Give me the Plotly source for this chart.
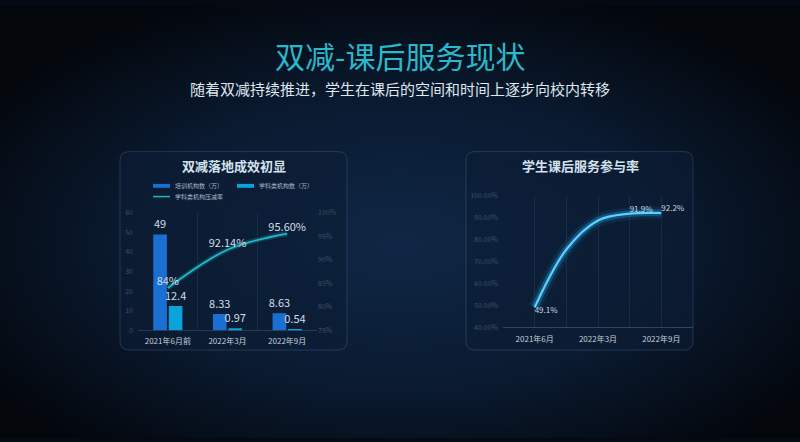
import base64
import plotly.graph_objects as go

# ---------------- data ----------------
title_main = "双减-课后服务现状"
subtitle = "随着双减持续推进，学生在课后的空间和时间上逐步向校内转移"

left_title = "双减落地成效初显"
left_cats = ["2021年6月前", "2022年3月", "2022年9月"]
training_orgs = [49, 8.33, 8.63]          # 培训机构数（万）
subject_orgs = [12.4, 0.97, 0.54]         # 学科类机构数（万）
reduction_rate = [84, 92.14, 95.60]       # 学科类机构压减率 (%)
reduction_labels = ["84%", "92.14%", "95.60%"]
legend_names = ["培训机构数（万）", "学科类机构数（万）", "学科类机构压减率"]

right_title = "学生课后服务参与率"
right_x = [0, 1, 2, 3, 4]
right_ticktext = ["2021年6月", "", "2022年3月", "", "2022年9月"]
participation = [49.1, 75.5, 88.8, 91.9, 92.2]
participation_labels = ["49.1%", "", "", "91.9%", "92.2%"]

FONT = "Noto Sans CJK SC"
W, H = 800, 442
C_BAR1, C_BAR2, C_LINE = "#1a6fd2", "#0aa3dc", "#1fb8c9"


def px_x(v):
    return v / W


def px_y(v):
    return 1 - v / H


def rounded_rect(x0, y0, x1, y1, r):
    rx, ry = r / W, r / H
    X0, X1 = px_x(x0), px_x(x1)
    Y0, Y1 = px_y(y1), px_y(y0)
    return (f"M {X0+rx},{Y0} L {X1-rx},{Y0} Q {X1},{Y0} {X1},{Y0+ry} "
            f"L {X1},{Y1-ry} Q {X1},{Y1} {X1-rx},{Y1} L {X0+rx},{Y1} "
            f"Q {X0},{Y1} {X0},{Y1-ry} L {X0},{Y0+ry} Q {X0},{Y0} {X0+rx},{Y0} Z")


fig = go.Figure()

# ---------------- left chart ----------------
bar_text_font = dict(size=11, color="#d3dde8", family=FONT)
fig.add_trace(go.Bar(
    x=left_cats, y=training_orgs, name=legend_names[0],
    marker=dict(color=C_BAR1, line=dict(width=0)),
    texttemplate="%{y}", textposition="outside", cliponaxis=False,
    constraintext="none", textfont=bar_text_font,
    xaxis="x", yaxis="y", showlegend=False,
))
fig.add_trace(go.Bar(
    x=left_cats, y=subject_orgs, name=legend_names[1],
    marker=dict(color=C_BAR2, line=dict(width=0)),
    texttemplate="%{y}", textposition="outside", cliponaxis=False,
    constraintext="none", textfont=bar_text_font,
    xaxis="x", yaxis="y", showlegend=False,
))
fig.add_trace(go.Scatter(
    x=left_cats, y=reduction_rate, mode="lines",
    line=dict(color="rgba(32,190,210,0.22)", width=5, shape="spline"),
    hoverinfo="skip", showlegend=False, xaxis="x", yaxis="y2",
))
fig.add_trace(go.Scatter(
    x=left_cats, y=reduction_rate, mode="lines+text", name=legend_names[2],
    line=dict(color=C_LINE, width=1.8, shape="spline"),
    text=reduction_labels, textposition="top center",
    textfont=dict(size=11, color="#d3dde8", family=FONT),
    cliponaxis=False, xaxis="x", yaxis="y2", showlegend=False,
))

# ---------------- right chart ----------------
for w, c in [(13, "rgba(30,160,230,0.10)"), (7, "rgba(30,160,230,0.35)")]:
    fig.add_trace(go.Scatter(
        x=right_x, y=participation, mode="lines",
        line=dict(color=c, width=w, shape="spline"),
        hoverinfo="skip", showlegend=False, xaxis="x3", yaxis="y3",
    ))
fig.add_trace(go.Scatter(
    x=right_x, y=participation, mode="lines+text",
    line=dict(color="#5fd0fa", width=2.2, shape="spline"),
    text=participation_labels,
    textposition=["bottom right", "top center", "top center", "top right", "top right"],
    textfont=dict(size=8, color="#c9d6e3", family=FONT),
    cliponaxis=False, showlegend=False, xaxis="x3", yaxis="y3",
))

# ---------------- background ----------------
svg = (f'<svg xmlns="http://www.w3.org/2000/svg" width="{W}" height="{H}">'
       '<defs><radialGradient id="g" cx="50%" cy="55%" r="62%">'
       '<stop offset="0" stop-color="#0f2745"/>'
       '<stop offset="0.55" stop-color="#0a1a30"/>'
       '<stop offset="1" stop-color="#03060b"/>'
       '</radialGradient></defs>'
       f'<rect width="{W}" height="{H}" fill="url(#g)"/></svg>')
bg_uri = "data:image/svg+xml;base64," + base64.b64encode(svg.encode()).decode()

panel_fill = "rgba(12,30,52,0.55)"
panel_line = "rgba(90,130,170,0.30)"
shapes = [
    dict(type="path", xref="paper", yref="paper", layer="below",
         path=rounded_rect(120, 149, 347, 352, 9),
         fillcolor=panel_fill, line=dict(color=panel_line, width=1)),
    dict(type="path", xref="paper", yref="paper", layer="below",
         path=rounded_rect(466, 149, 693, 352, 9),
         fillcolor=panel_fill, line=dict(color=panel_line, width=1)),
]

annotations = [
    dict(text=title_main, x=0.5, y=px_y(50), xref="paper", yref="paper",
         showarrow=False, font=dict(size=30, color="#2ab8cc", family=FONT),
         xanchor="center", yanchor="middle"),
    dict(text=subtitle, x=0.5, y=px_y(84), xref="paper", yref="paper",
         showarrow=False, font=dict(size=15, color="#dfe7ef", family=FONT),
         xanchor="center", yanchor="middle"),
    dict(text=f"<b>{left_title}</b>", x=px_x(234), y=px_y(163), xref="paper", yref="paper",
         showarrow=False, font=dict(size=13, color="#d5e2ee", family=FONT),
         xanchor="center", yanchor="middle"),
    dict(text=f"<b>{right_title}</b>", x=px_x(580), y=px_y(163), xref="paper", yref="paper",
         showarrow=False, font=dict(size=13, color="#d5e2ee", family=FONT),
         xanchor="center", yanchor="middle"),
]

# ---------------- custom legend (swatches + labels) ----------------
legend_items = [
    (legend_names[0], C_BAR1, "rect", 153, 184),
    (legend_names[1], C_BAR2, "rect", 237, 184),
    (legend_names[2], C_LINE, "line", 153, 195),
]
for name, color, kind, lx, ly in legend_items:
    if kind == "rect":
        shapes.append(dict(type="rect", xref="paper", yref="paper",
                           x0=px_x(lx), x1=px_x(lx + 17), y0=px_y(ly + 2), y1=px_y(ly - 2),
                           fillcolor=color, line=dict(width=0)))
    else:
        shapes.append(dict(type="line", xref="paper", yref="paper",
                           x0=px_x(lx), x1=px_x(lx + 17), y0=px_y(ly), y1=px_y(ly),
                           line=dict(color=color, width=1.5)))
    annotations.append(dict(text=name, x=px_x(lx + 20), y=px_y(ly), xref="paper", yref="paper",
                            showarrow=False, xanchor="left", yanchor="middle",
                            font=dict(size=6, color="#aab8c6", family=FONT)))

grid_c = "rgba(120,150,185,0.13)"
dim_tick = dict(size=7, color="#3e5064", family=FONT)
lab_tick = dict(size=8, color="#c3cfdb", family=FONT)

fig.update_layout(
    width=W, height=H,
    margin=dict(l=0, r=0, t=0, b=0),
    paper_bgcolor="#050a12",
    plot_bgcolor="rgba(0,0,0,0)",
    images=[dict(source=bg_uri, xref="paper", yref="paper", x=0, y=1,
                 sizex=1, sizey=1, sizing="stretch", layer="below",
                 xanchor="left", yanchor="top")],
    shapes=shapes,
    annotations=annotations,
    barmode="group", bargap=0.48, bargroupgap=0.12,
    showlegend=False,
    xaxis=dict(domain=[px_x(138), px_x(317)], anchor="y", type="category",
               tickson="boundaries", showgrid=True, gridcolor=grid_c, gridwidth=1,
               showline=True, linecolor="rgba(120,150,185,0.25)", ticks="",
               tickfont=lab_tick, ticklabelstandoff=3),
    yaxis=dict(domain=[px_y(331.7), px_y(211.7)], anchor="x", range=[0, 60], dtick=10,
               showgrid=False, zeroline=False, tickfont=dim_tick, ticks="",
               ticklabelstandoff=4),
    yaxis2=dict(overlaying="y", side="right", anchor="x", range=[75, 100], dtick=5,
                ticksuffix="%", showgrid=False, zeroline=False, tickfont=dim_tick, ticks=""),
    xaxis3=dict(domain=[px_x(503), px_x(693)], anchor="y3", range=[-1, 5],
                tickvals=right_x, ticktext=right_ticktext, showgrid=True,
                gridcolor=grid_c, zeroline=False, showline=True,
                linecolor="rgba(140,170,200,0.30)", ticks="", tickfont=lab_tick,
                ticklabelstandoff=4),
    yaxis3=dict(domain=[px_y(328.7), px_y(194.3)], anchor="x3", range=[40, 100], dtick=10,
                tickformat=".2f", ticksuffix="%", showgrid=False, zeroline=False,
                tickfont=dim_tick, ticks="", ticklabelstandoff=4),
)

fig.write_html("out.html", config={"displayModeBar": False},
               post_script="document.body.style.margin='0';document.body.style.padding='0';")
